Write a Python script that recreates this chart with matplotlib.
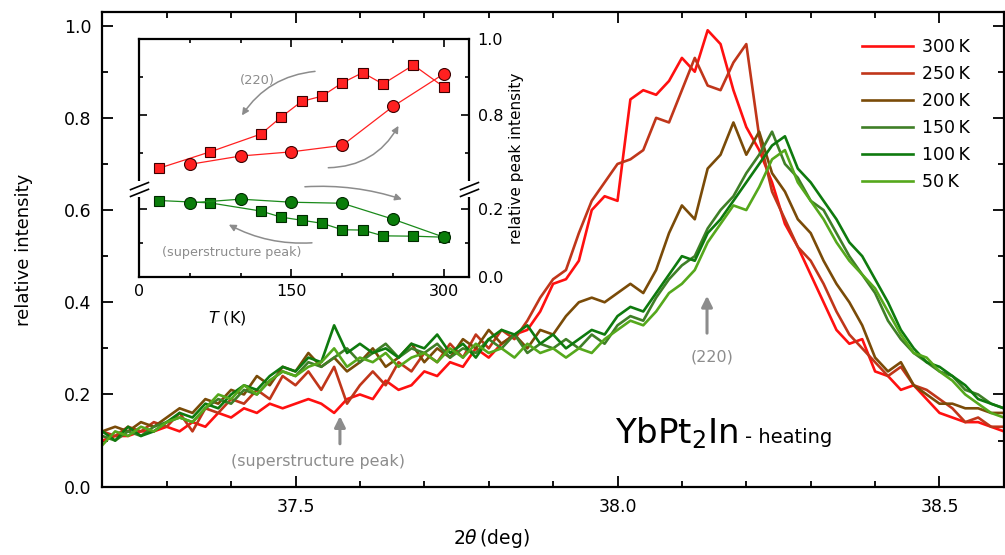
import numpy as np
import matplotlib.pyplot as plt
from matplotlib.path import Path
from matplotlib.ticker import MultipleLocator, FixedLocator

plt.rcParams['font.family'] = ['DejaVu Sans']
plt.rcParams['mathtext.fontset'] = 'dejavusans'

# main scan: 2theta grid (deg) and relative intensity per temperature
two_theta = np.round(np.arange(37.20, 38.601, 0.02), 2)

I_300K = [0.10, 0.11, 0.11, 0.12, 0.12, 0.13, 0.12, 0.14, 0.13, 0.16,
          0.15, 0.17, 0.16, 0.18, 0.17, 0.18, 0.19, 0.18, 0.16, 0.19,
          0.20, 0.19, 0.23, 0.21, 0.22, 0.25, 0.24, 0.27, 0.26, 0.30,
          0.28, 0.31, 0.33, 0.34, 0.38, 0.44, 0.45, 0.49, 0.60, 0.63,
          0.62, 0.84, 0.86, 0.85, 0.88, 0.93, 0.90, 0.99, 0.96, 0.86,
          0.78, 0.73, 0.66, 0.57, 0.52, 0.46, 0.40, 0.34, 0.31, 0.32,
          0.25, 0.24, 0.21, 0.22, 0.19, 0.16, 0.15, 0.14, 0.14, 0.13,
          0.12]
I_250K = [0.12, 0.11, 0.13, 0.12, 0.14, 0.13, 0.16, 0.12, 0.17, 0.16,
          0.19, 0.18, 0.21, 0.19, 0.24, 0.22, 0.25, 0.21, 0.26, 0.18,
          0.22, 0.25, 0.22, 0.27, 0.25, 0.29, 0.27, 0.31, 0.28, 0.33,
          0.30, 0.34, 0.32, 0.36, 0.41, 0.45, 0.47, 0.55, 0.62, 0.66,
          0.70, 0.71, 0.73, 0.80, 0.79, 0.86, 0.93, 0.87, 0.86, 0.92,
          0.96, 0.76, 0.64, 0.58, 0.52, 0.49, 0.44, 0.38, 0.33, 0.30,
          0.27, 0.24, 0.26, 0.22, 0.21, 0.19, 0.17, 0.14, 0.15, 0.13,
          0.13]
I_200K = [0.12, 0.13, 0.12, 0.14, 0.13, 0.15, 0.17, 0.16, 0.19, 0.18,
          0.21, 0.20, 0.24, 0.22, 0.26, 0.25, 0.29, 0.26, 0.28, 0.25,
          0.27, 0.30, 0.26, 0.28, 0.31, 0.27, 0.30, 0.28, 0.32, 0.30,
          0.34, 0.31, 0.33, 0.30, 0.34, 0.33, 0.37, 0.40, 0.41, 0.40,
          0.42, 0.44, 0.42, 0.47, 0.55, 0.61, 0.58, 0.69, 0.72, 0.79,
          0.72, 0.77, 0.68, 0.64, 0.58, 0.55, 0.49, 0.44, 0.40, 0.35,
          0.28, 0.25, 0.27, 0.22, 0.20, 0.18, 0.18, 0.17, 0.17, 0.16,
          0.16]
I_150K = [0.11, 0.10, 0.12, 0.11, 0.13, 0.14, 0.15, 0.14, 0.17, 0.19,
          0.18, 0.21, 0.20, 0.23, 0.25, 0.24, 0.27, 0.26, 0.28, 0.30,
          0.27, 0.29, 0.31, 0.28, 0.30, 0.29, 0.31, 0.28, 0.30, 0.29,
          0.32, 0.30, 0.33, 0.29, 0.31, 0.30, 0.32, 0.30, 0.33, 0.31,
          0.35, 0.37, 0.36, 0.41, 0.45, 0.48, 0.50, 0.56, 0.60, 0.63,
          0.68, 0.72, 0.77, 0.70, 0.67, 0.62, 0.60, 0.55, 0.50, 0.46,
          0.42, 0.36, 0.32, 0.29, 0.27, 0.25, 0.24, 0.21, 0.20, 0.18,
          0.17]
I_100K = [0.12, 0.10, 0.13, 0.11, 0.12, 0.14, 0.16, 0.15, 0.18, 0.17,
          0.20, 0.22, 0.21, 0.24, 0.26, 0.25, 0.28, 0.27, 0.35, 0.29,
          0.31, 0.29, 0.30, 0.28, 0.31, 0.30, 0.33, 0.29, 0.31, 0.28,
          0.32, 0.34, 0.33, 0.35, 0.31, 0.33, 0.30, 0.32, 0.34, 0.33,
          0.37, 0.39, 0.38, 0.42, 0.46, 0.50, 0.49, 0.55, 0.58, 0.62,
          0.66, 0.70, 0.74, 0.76, 0.69, 0.66, 0.62, 0.58, 0.53, 0.50,
          0.45, 0.40, 0.34, 0.30, 0.27, 0.26, 0.24, 0.22, 0.19, 0.18,
          0.17]
I_50K = [0.09, 0.12, 0.11, 0.13, 0.12, 0.14, 0.15, 0.14, 0.17, 0.20,
         0.19, 0.22, 0.20, 0.23, 0.25, 0.24, 0.26, 0.27, 0.30, 0.26,
         0.28, 0.27, 0.29, 0.26, 0.28, 0.29, 0.27, 0.30, 0.28, 0.31,
         0.29, 0.30, 0.28, 0.31, 0.29, 0.30, 0.28, 0.30, 0.29, 0.32,
         0.34, 0.36, 0.35, 0.38, 0.42, 0.44, 0.47, 0.53, 0.57, 0.61,
         0.60, 0.65, 0.71, 0.73, 0.66, 0.62, 0.58, 0.53, 0.49, 0.46,
         0.43, 0.38, 0.33, 0.29, 0.28, 0.25, 0.23, 0.20, 0.18, 0.16,
         0.15]

scans = [I_300K, I_250K, I_200K, I_150K, I_100K, I_50K]
scan_labels = ['300\u2009K', '250\u2009K', '200\u2009K', '150\u2009K', '100\u2009K', '50\u2009K']
scan_colors = ['#ff1010', '#c0361a', '#7a4b08', '#3f7f27', '#0e7a0e', '#55a81c']

# inset: peak intensities vs temperature
T_cool = [20, 70, 120, 140, 160, 180, 200, 220, 240, 270, 300]
T_heat = [50, 100, 150, 200, 250, 300]
p220_cool = [0.660, 0.703, 0.750, 0.795, 0.836, 0.850, 0.885, 0.912, 0.882, 0.932, 0.874]
p220_heat = [0.670, 0.692, 0.703, 0.720, 0.823, 0.909]
super_cool = [0.226, 0.219, 0.195, 0.177, 0.168, 0.159, 0.140, 0.139, 0.122, 0.121, 0.118]
super_heat = [0.219, 0.230, 0.221, 0.218, 0.171, 0.118]

grey = '#8c8c8c'

fig = plt.figure(figsize=(10.05, 5.55), dpi=100)
ax = fig.add_axes([0.1018, 0.1231, 0.8971, 0.8548])

for vals, lab, col in zip(scans, scan_labels, scan_colors):
    ax.plot(two_theta, vals, color=col, lw=1.9, label=lab)

ax.set_xlim(37.2, 38.6)
ax.set_ylim(0.0, 1.029)
ax.xaxis.set_major_locator(FixedLocator([37.5, 38.0, 38.5]))
ax.xaxis.set_minor_locator(MultipleLocator(0.1))
ax.yaxis.set_major_locator(MultipleLocator(0.2))
ax.yaxis.set_minor_locator(MultipleLocator(0.1))
ax.xaxis.set_major_formatter(plt.FormatStrFormatter('%.1f'))
ax.yaxis.set_major_formatter(plt.FormatStrFormatter('%.1f'))
ax.tick_params(which='both', direction='in', top=True, right=True, labelsize=12.5)
ax.tick_params(which='major', length=8, width=1.3)
ax.tick_params(which='minor', length=4.3, width=1.3)
ax.tick_params(axis='x', pad=8)
ax.tick_params(axis='y', pad=8)
for s in ax.spines.values():
    s.set_linewidth(1.6)

ax.set_xlabel(r'$2\theta\,$(deg)', fontsize=13.5)
ax.xaxis.set_label_coords(0.432, -0.085)
ax.set_ylabel('relative intensity', fontsize=13)
ax.yaxis.set_label_coords(-0.077, 0.5)

leg = ax.legend(loc='upper left', bbox_to_anchor=(0.843, 0.946), frameon=False,
                fontsize=12.5, handlelength=2.9, handletextpad=0.55,
                labelspacing=0.52, borderpad=0, borderaxespad=0)

ax.annotate('', xy=(38.139, 0.42), xytext=(38.139, 0.327),
            arrowprops=dict(arrowstyle='-|>', color=grey, lw=2.2, mutation_scale=16))
ax.text(38.147, 0.282, '(220)', color=grey, fontsize=11.5, ha='center', va='center')
ax.annotate('', xy=(37.569, 0.159), xytext=(37.569, 0.087),
            arrowprops=dict(arrowstyle='-|>', color=grey, lw=2.2, mutation_scale=16))
ax.text(37.535, 0.054, '(superstructure peak)', color=grey, fontsize=11.4,
        ha='center', va='center')

ax.text(37.996, 0.094, r'YbPt$_2$In', fontsize=24.5, ha='left', va='baseline')
ax.text(38.198, 0.094, '- heating', fontsize=14, ha='left', va='baseline')

# inset with broken y axis
ax_up = fig.add_axes([0.1383, 0.6595, 0.3287, 0.2697])
ax_lo = fig.add_axes([0.1383, 0.5004, 0.3287, 0.1591])

ax_up.plot(T_cool, p220_cool, color='#ff2020', lw=0.9, marker='s', ms=7.2,
           mfc='#ff2020', mec='#3a0000', mew=0.8)
ax_up.plot(T_heat, p220_heat, color='#ff2020', lw=0.9, marker='o', ms=8.6,
           mfc='#ff2020', mec='#3a0000', mew=0.8)
ax_lo.plot(T_cool, super_cool, color='#1a8a1a', lw=0.9, marker='s', ms=7.2,
           mfc='#0a7d0a', mec='#002a00', mew=0.8)
ax_lo.plot(T_heat, super_heat, color='#1a8a1a', lw=0.9, marker='o', ms=8.6,
           mfc='#0a7d0a', mec='#002a00', mew=0.8)

for a in (ax_up, ax_lo):
    a.set_xlim(0, 325)
    a.xaxis.set_major_locator(MultipleLocator(150))
    a.xaxis.set_minor_locator(MultipleLocator(50))
    a.yaxis.set_major_locator(MultipleLocator(0.2))
    a.yaxis.set_minor_locator(MultipleLocator(0.1))
    a.yaxis.set_major_formatter(plt.FormatStrFormatter('%.1f'))
    a.tick_params(which='both', direction='in', left=True, right=True,
                  labelleft=False, labelright=True, labelsize=11.5, pad=6)
    a.tick_params(which='major', length=6, width=1.2)
    a.tick_params(which='minor', length=3.2, width=1.2)
    for s in a.spines.values():
        s.set_linewidth(1.6)

ax_up.set_ylim(0.605, 1.0)
ax_lo.set_ylim(0.0, 0.26)
ax_up.spines['bottom'].set_visible(False)
ax_lo.spines['top'].set_visible(False)
ax_up.tick_params(which='both', bottom=False, top=True, labelbottom=False)
ax_lo.tick_params(which='both', top=False, bottom=True)
ax_lo.tick_params(axis='x', pad=5)
ax_lo.set_xlabel(r'$T$ (K)', fontsize=11.5)
ax_lo.xaxis.set_label_coords(0.266, -0.36)

# break marks on both sides
gap = Path([(0, -0.35), (0, 0.35)], [Path.MOVETO, Path.LINETO])
slashes = Path([(-1, -0.75), (1, 0.05), (-1, -0.05), (1, 0.75)],
               [Path.MOVETO, Path.LINETO, Path.MOVETO, Path.LINETO])
ax_lo.plot([0, 1], [1, 1], transform=ax_lo.transAxes, marker=gap, ms=12,
           ls='none', mec='white', mew=3, clip_on=False, zorder=5)
ax_lo.plot([0, 1], [1, 1], transform=ax_lo.transAxes, marker=slashes, ms=14,
           ls='none', mec='black', mew=1.2, clip_on=False, zorder=6)

fig.text(0.514, 0.715, 'relative peak intensity', rotation=90, fontsize=11,
         ha='center', va='center')

arrow = dict(arrowstyle='-|>', color=grey, lw=1.1, mutation_scale=10)
ax_up.annotate('', xy=(99.8, 0.793), xytext=(175.9, 0.916),
               arrowprops=dict(arrow, connectionstyle='arc3,rad=0.25'))
ax_up.annotate('', xy=(256.6, 0.778), xytext=(183.5, 0.661),
               arrowprops=dict(arrow, connectionstyle='arc3,rad=0.3'))
ax_lo.annotate('', xy=(261.3, 0.227), xytext=(160.5, 0.266),
               arrowprops=dict(arrow, connectionstyle='arc3,rad=-0.1'),
               annotation_clip=False)
ax_lo.annotate('', xy=(86.0, 0.159), xytext=(172.9, 0.102),
               arrowprops=dict(arrow, connectionstyle='arc3,rad=-0.15'))
ax_up.text(116.5, 0.89, '(220)', color=grey, fontsize=9.4, ha='center', va='center')
ax_lo.text(91.6, 0.074, '(superstructure peak)', color=grey, fontsize=9.2,
           ha='center', va='center')

fig.savefig('out.png', dpi=100)
